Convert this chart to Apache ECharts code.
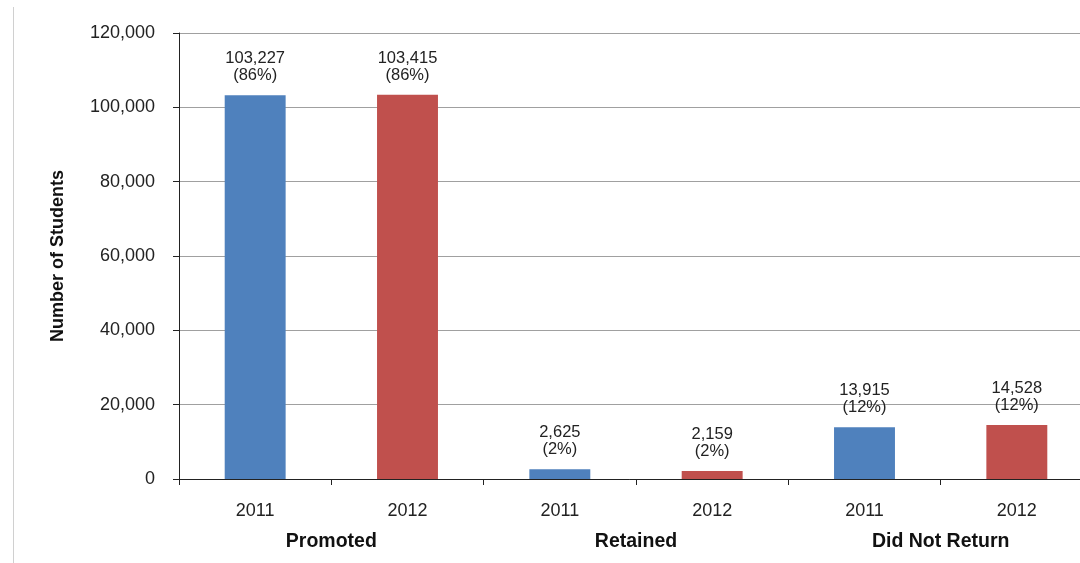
<!DOCTYPE html>
<html>
<head>
<meta charset="utf-8">
<script src="https://cdn.jsdelivr.net/npm/echarts@6/dist/echarts.min.js"></script>
<style>
  html, body { margin: 0; padding: 0; background: #fff; }
  #chart { width: 1080px; height: 563px; }
</style>
</head>
<body>
<div id="chart"></div>
<script>
// data
const years = ["2011", "2012", "2011", "2012", "2011", "2012"];
const groups = ["Promoted", "Retained", "Did Not Return"];
const students = [103227, 103415, 2625, 2159, 13915, 14528];
const percents = [86, 86, 2, 2, 12, 12];
const yearColors = { "2011": "#4F81BD", "2012": "#C0504D" };

const fmt = v => v.toLocaleString("en-US");
const font = "Liberation Sans, Arial, sans-serif";

let myChart = echarts.init(document.getElementById("chart"));

let option = {
  animation: false,
  backgroundColor: "#fff",
  // plot runs a bit past the right edge of the picture
  grid: { left: 179, width: 914, top: 33, bottom: 84, outerBoundsMode: "none", containLabel: false },
  graphic: [
    {
      // faint outer border on the left
      type: "line",
      shape: { x1: 13.5, y1: 7, x2: 13.5, y2: 563 },
      style: { stroke: "#d0d0d0", lineWidth: 1 }
    }
  ],
  xAxis: [
    {
      type: "category",
      data: years,
      axisLine: { lineStyle: { color: "#222", width: 1 } },
      axisTick: { show: true, interval: 0, length: 6, lineStyle: { color: "#222" } },
      axisLabel: { color: "#222", fontFamily: font, fontSize: 18, margin: 23, interval: 0 }
    },
    {
      type: "category",
      data: groups,
      position: "bottom",
      axisLine: { show: false },
      axisTick: { show: false },
      axisLabel: { color: "#111", fontFamily: font, fontSize: 19.5, fontWeight: "bold", margin: 53, interval: 0 }
    }
  ],
  yAxis: {
    type: "value",
    min: 0,
    max: 120000,
    interval: 20000,
    name: "Number of Students",
    nameLocation: "middle",
    nameGap: 112,
    nameTextStyle: { color: "#111", fontFamily: font, fontSize: 18, fontWeight: "bold" },
    axisLine: { show: true, lineStyle: { color: "#222", width: 1 } },
    axisTick: { show: true, length: 6, lineStyle: { color: "#222" } },
    axisLabel: { color: "#222", fontFamily: font, fontSize: 18, margin: 24, formatter: v => fmt(v) },
    splitLine: { lineStyle: { color: "#a0a0a0", width: 1 } }
  },
  series: [
    {
      type: "bar",
      xAxisIndex: 0,
      barWidth: "40%",
      data: students.map((v, i) => ({
        value: v,
        itemStyle: { color: yearColors[years[i]] }
      })),
      label: {
        show: true,
        position: "top",
        distance: 11,
        color: "#222",
        fontFamily: font,
        fontSize: 16.5,
        lineHeight: 17,
        formatter: p => fmt(p.value) + "\n(" + percents[p.dataIndex] + "%)"
      }
    }
  ]
};
myChart.setOption(option);
</script>
</body>
</html>
